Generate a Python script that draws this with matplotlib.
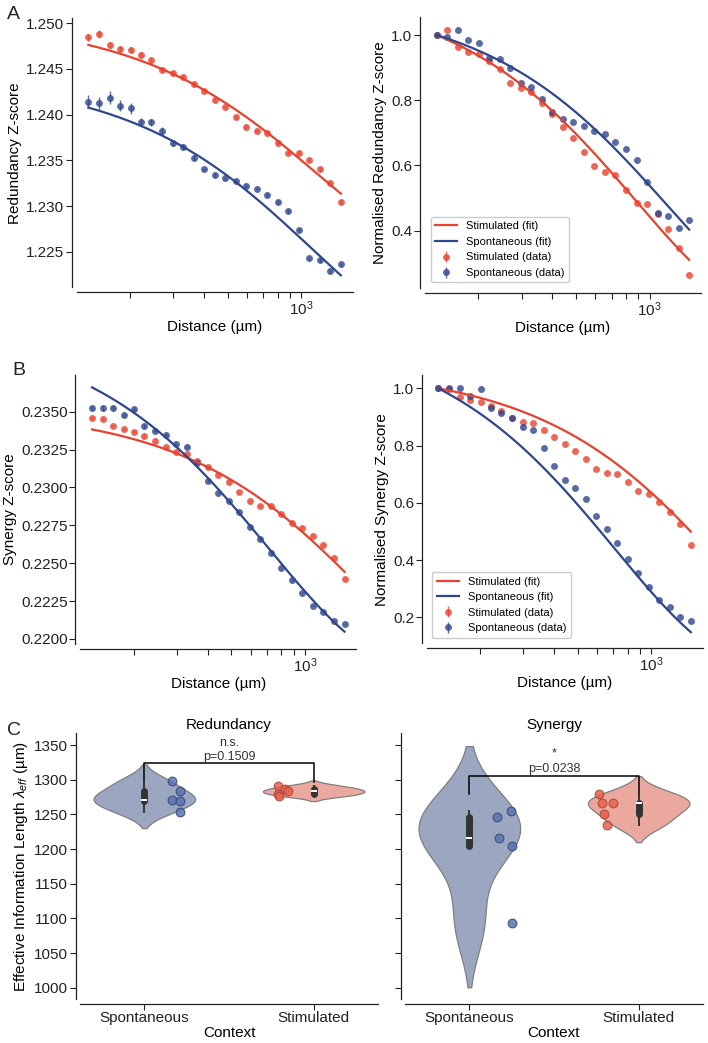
import numpy as np
import matplotlib
matplotlib.use("Agg")
import matplotlib.pyplot as plt
from matplotlib.ticker import FormatStrFormatter, NullFormatter, MultipleLocator

plt.rcParams['font.family'] = ['Liberation Sans', 'DejaVu Sans']
plt.rcParams['mathtext.fontset'] = 'custom'
plt.rcParams['mathtext.rm'] = 'Liberation Sans'
plt.rcParams['mathtext.it'] = 'Liberation Sans:italic'
plt.rcParams['mathtext.bf'] = 'Liberation Sans:bold'

# distance bins (um)
distance = [135, 149, 165, 182, 201, 221, 244, 270, 298, 329, 363, 401, 442,
            488, 539, 595, 657, 725, 800, 884, 975, 1077, 1189, 1312, 1449]

# redundancy z-score
red_stim = [1.24847, 1.24883, 1.24763, 1.24719, 1.24708, 1.24653, 1.24595, 1.24489,
            1.24453, 1.24416, 1.24336, 1.24263, 1.24161, 1.24080, 1.23978, 1.23865,
            1.23821, 1.23796, 1.23686, 1.23584, 1.23577, 1.23504, 1.23401, 1.23255, 1.23047]
red_stim_err = [0.0004, 0.0004, 0.0003, 0.0003, 0.0003, 0.0003, 0.0003, 0.0002, 0.0002,
                0.0002, 0.0002, 0.0002, 0.0002, 0.0002, 0.0002, 0.0002, 0.0002, 0.0002,
                0.0002, 0.0002, 0.0002, 0.0002, 0.0002, 0.0002, 0.0002]
red_spont = [1.24142, 1.24124, 1.24186, 1.24098, 1.24069, 1.23923, 1.23916, 1.23821,
             1.23686, 1.23646, 1.23529, 1.23401, 1.23339, 1.23303, 1.23274, 1.23219,
             1.23190, 1.23120, 1.23047, 1.22945, 1.22737, 1.22427, 1.22409, 1.22288, 1.22361]
red_spont_err = [0.0007, 0.0007, 0.0007, 0.0006, 0.0006, 0.0004, 0.0004, 0.0004, 0.0003,
                 0.0003, 0.0003, 0.0002, 0.0002, 0.0002, 0.0002, 0.0002, 0.0002, 0.0002,
                 0.0002, 0.0002, 0.0002, 0.0002, 0.0002, 0.0002, 0.0002]

# normalised redundancy
nred_stim = [1.000, 1.015, 0.964, 0.947, 0.942, 0.920, 0.896, 0.852, 0.838, 0.824, 0.790,
             0.757, 0.718, 0.685, 0.642, 0.598, 0.579, 0.571, 0.525, 0.484, 0.481, 0.450,
             0.406, 0.348, 0.263]
nred_spont = [1.000, 0.995, 1.015, 0.985, 0.974, 0.928, 0.925, 0.898, 0.854, 0.842, 0.804,
              0.765, 0.742, 0.732, 0.722, 0.706, 0.695, 0.673, 0.650, 0.617, 0.550, 0.453,
              0.446, 0.407, 0.433]

# synergy z-score
syn_stim = [0.23456, 0.23449, 0.23405, 0.23383, 0.23368, 0.23342, 0.23309, 0.23265,
            0.23232, 0.23218, 0.23177, 0.23133, 0.23080, 0.23038, 0.22968, 0.22911,
            0.22880, 0.22878, 0.22823, 0.22763, 0.22735, 0.22682, 0.22620, 0.22532, 0.22394]
syn_stim_err = [0.00010, 0.00010, 0.00008, 0.00008, 0.00008, 0.00008, 0.00006, 0.00006,
                0.00006, 0.00005, 0.00005, 0.00005, 0.00005, 0.00005, 0.00005, 0.00005,
                0.00005, 0.00005, 0.00005, 0.00005, 0.00005, 0.00005, 0.00005, 0.00005, 0.00005]
syn_spont = [0.23522, 0.23522, 0.23526, 0.23478, 0.23515, 0.23405, 0.23375, 0.23346,
             0.23287, 0.23269, 0.23163, 0.23043, 0.22961, 0.22913, 0.22840, 0.22737,
             0.22660, 0.22565, 0.22471, 0.22389, 0.22306, 0.22220, 0.22180, 0.22119, 0.22097]
syn_spont_err = [0.00018, 0.00018, 0.00016, 0.00014, 0.00014, 0.00012, 0.00010, 0.00010,
                 0.00008, 0.00008, 0.00006, 0.00006, 0.00005, 0.00005, 0.00005, 0.00005,
                 0.00005, 0.00005, 0.00005, 0.00005, 0.00005, 0.00005, 0.00005, 0.00005, 0.00005]

# normalised synergy
nsyn_stim = [1.000, 0.997, 0.971, 0.959, 0.951, 0.939, 0.922, 0.898, 0.884, 0.878, 0.855,
             0.831, 0.806, 0.782, 0.752, 0.718, 0.703, 0.701, 0.672, 0.641, 0.630, 0.602,
             0.567, 0.526, 0.453]
nsyn_spont = [1.000, 1.000, 1.002, 0.973, 0.997, 0.932, 0.913, 0.898, 0.866, 0.855, 0.793,
              0.727, 0.680, 0.651, 0.612, 0.555, 0.510, 0.459, 0.403, 0.354, 0.307, 0.261,
              0.237, 0.202, 0.188]
norm_err = 0.0

# exponential fits: offset, amplitude, length (um)
fit_red_stim = [1.22373, 0.02688, 1150]
fit_red_spont = [1.21468, 0.02957, 1080]
fit_nred_stim = [0.1154, 1.033, 870]
fit_nred_spont = [0.116, 0.992, 1170]
fit_syn_stim = [0.215832, 0.019415, 1780]
fit_syn_spont = [0.217475, 0.023136, 710]
fit_nsyn_stim = [-0.0397, 1.1123, 2000]
fit_nsyn_spont = [-0.0110, 1.2226, 710]

# effective information length per culture (um)
contexts = ['Spontaneous', 'Stimulated']
lam_red_spont = [1298, 1283, 1271, 1269, 1254]
lam_red_stim = [1291, 1286, 1284, 1280, 1277]
lam_syn_spont = [1255, 1246, 1216, 1204, 1094]
lam_syn_stim = [1280, 1267, 1266, 1250, 1235]
p_red = 'p=0.1509'
p_syn = 'p=0.0238'

RED = '#e8412d'
BLUE = '#2e468c'
W, H = 708, 1043

fig = plt.figure(figsize=(W / 100, H / 100), dpi=100)


def px_axes(l, t, r, b):
    return fig.add_axes([l / W, 1 - b / H, (r - l) / W, (b - t) / H])


def style(ax, off=3.6):
    ax.spines['top'].set_visible(False)
    ax.spines['right'].set_visible(False)
    for s in ['left', 'bottom']:
        ax.spines[s].set_position(('outward', off))
        ax.spines[s].set_linewidth(0.9)
        ax.spines[s].set_color('#222222')
    ax.tick_params(which='both', direction='out', length=4, width=0.8, pad=1.5,
                   labelsize=11, color='#222222', labelcolor='#222222')
    ax.tick_params(axis='x', which='both', pad=1.0)


def fit_curve(p, d):
    return p[0] + p[1] * np.exp(-d / p[2])


dd = np.geomspace(distance[0], distance[-1], 200)


def line_panel(ax, stim, stim_err, spont, spont_err, fstim, fspont, ylabel, ylim, fmt, step,
               legend=False):
    style(ax)
    ax.set_xscale('log')
    e1 = ax.errorbar(distance, stim, yerr=stim_err, fmt='o', color=RED, alpha=0.8, ms=5,
                     mew=0, elinewidth=1, capsize=1.5, capthick=1, zorder=2)
    e2 = ax.errorbar(distance, spont, yerr=spont_err, fmt='o', color=BLUE, alpha=0.8, ms=5,
                     mew=0, elinewidth=1, capsize=1.5, capthick=1, zorder=2)
    l1, = ax.plot(dd, fit_curve(fstim, dd), color=RED, lw=1.6, zorder=3)
    l2, = ax.plot(dd, fit_curve(fspont, dd), color=BLUE, lw=1.6, zorder=3)
    ax.set_xlim(121, 1620)
    ax.set_ylim(*ylim)
    ax.yaxis.set_major_locator(MultipleLocator(step))
    ax.yaxis.set_major_formatter(FormatStrFormatter(fmt))
    ax.xaxis.set_minor_formatter(NullFormatter())
    ax.set_xlabel('Distance (µm)', fontsize=11, labelpad=1.5)
    ax.set_ylabel(ylabel, fontsize=11, labelpad=3)
    if legend:
        ax.legend([l1, l2, e1, e2],
                  ['Stimulated (fit)', 'Spontaneous (fit)', 'Stimulated (data)',
                   'Spontaneous (data)'],
                  loc='lower left', fontsize=8, framealpha=1, edgecolor='#cccccc')


axA1 = px_axes(76.7, 18.3, 352.7, 287.3)
line_panel(axA1, red_stim, red_stim_err, red_spont, red_spont_err, fit_red_stim,
           fit_red_spont, 'Redundancy Z-score', (1.2211, 1.25055), '%.3f', 0.005)
axA2 = px_axes(425, 17, 701, 288)
line_panel(axA2, nred_stim, norm_err, nred_spont, norm_err, fit_nred_stim, fit_nred_spont,
           'Normalised Redundancy Z-score', (0.2243, 1.0552), '%.1f', 0.2, legend=True)
axB1 = px_axes(80.4, 375, 356.4, 644)
line_panel(axB1, syn_stim, syn_stim_err, syn_spont, syn_spont_err, fit_syn_stim,
           fit_syn_spont, 'Synergy Z-score', (0.21967, 0.23742), '%.4f', 0.0025)
axB2 = px_axes(426.7, 375, 702.7, 643.3)
line_panel(axB2, nsyn_stim, norm_err, nsyn_spont, norm_err, fit_nsyn_stim, fit_nsyn_spont,
           'Normalised Synergy Z-score', (0.109, 1.0466), '%.1f', 0.2, legend=True)

# violins
VBLUE_FILL, VRED_FILL = '#9ba6c1', '#eba89e'
DOT_BLUE, DOT_RED = '#5a74ae', '#ea5f4c'
EDGE_BLUE, EDGE_RED = '#34477a', '#a5473a'


def violin(ax, pos, vals, fill, dot, dotedge, jitter, width=0.6, cut=2):
    v = np.asarray(vals, float)
    bw = v.std(ddof=1) * len(v) ** (-1 / 5)
    grid = np.linspace(v.min() - cut * bw, v.max() + cut * bw, 300)
    dens = np.exp(-0.5 * ((grid[:, None] - v[None, :]) / bw) ** 2).sum(1)
    dens = dens / dens.max() * width / 2
    ax.fill_betweenx(grid, pos - dens, pos + dens, facecolor=fill, edgecolor='#7f7f7f',
                     lw=0.9, zorder=1)
    q1, med, q3 = np.percentile(v, [25, 50, 75])
    iqr = q3 - q1
    lo = v[v >= q1 - 1.5 * iqr].min()
    hi = v[v <= q3 + 1.5 * iqr].max()
    ax.plot([pos, pos], [lo, hi], color='#333333', lw=1.4, zorder=3)
    ax.plot([pos, pos], [q1, q3], color='#333333', lw=5, solid_capstyle='round', zorder=3)
    ax.plot([pos], [med], marker='_', color='white', ms=4.5, mew=1.4, zorder=4)
    ax.scatter(pos + np.asarray(jitter), v, s=40, c=dot, edgecolors=dotedge, linewidths=0.8,
               alpha=0.85, zorder=5)


def bracket(ax, y, lo0, lo1, star, ptxt, ystar, yp):
    ax.plot([0, 0, 1, 1], [lo0, y, y, lo1], color='black', lw=1.1, zorder=2)
    ax.text(0.5, ystar, star, ha='center', va='center', fontsize=9, color='#333333')
    ax.text(0.5, yp, ptxt, ha='center', va='center', fontsize=9, color='#333333')


axC1 = px_axes(80, 733.3, 378, 999.3)
axC2 = px_axes(405, 733.3, 703, 999.3)
for ax in (axC1, axC2):
    style(ax, off=3.2)
    ax.set_xlim(-0.38, 1.38)
    ax.set_ylim(983.3, 1366.9)
    ax.yaxis.set_major_locator(MultipleLocator(50))
    ax.set_xticks([0, 1], contexts)
    ax.set_xlabel('Context', fontsize=11, labelpad=1)

violin(axC1, 0, lam_red_spont, VBLUE_FILL, DOT_BLUE, EDGE_BLUE,
       [0.164, 0.209, 0.164, 0.209, 0.209])
violin(axC1, 1, lam_red_stim, VRED_FILL, DOT_RED, EDGE_RED,
       [-0.211, -0.17, -0.150, -0.21, -0.205])
bracket(axC1, 1323.5, 1297, 1297, 'n.s.', p_red, 1352.4, 1333)
axC1.set_title('Redundancy', fontsize=11, pad=3)
axC1.set_ylabel(r'Effective Information Length $\lambda_{eff}$ (µm)', fontsize=11, labelpad=3)

violin(axC2, 0, lam_syn_spont, VBLUE_FILL, DOT_BLUE, EDGE_BLUE,
       [0.246, 0.165, 0.175, 0.25, 0.25])
violin(axC2, 1, lam_syn_stim, VRED_FILL, DOT_RED, EDGE_RED,
       [-0.234, -0.217, -0.153, -0.203, -0.189])
bracket(axC2, 1305.3, 1279, 1280, '*', p_syn, 1338, 1315)
axC2.set_title('Synergy', fontsize=11, pad=3)
axC2.tick_params(labelleft=False)

# panel letters
fig.text(7 / W, 1 - 19 / H, 'A', fontsize=14, color='#222222')
fig.text(12 / W, 1 - 375 / H, 'B', fontsize=14, color='#222222')
fig.text(7 / W, 1 - 735 / H, 'C', fontsize=14, color='#222222')

fig.savefig('out.png', dpi=100)
